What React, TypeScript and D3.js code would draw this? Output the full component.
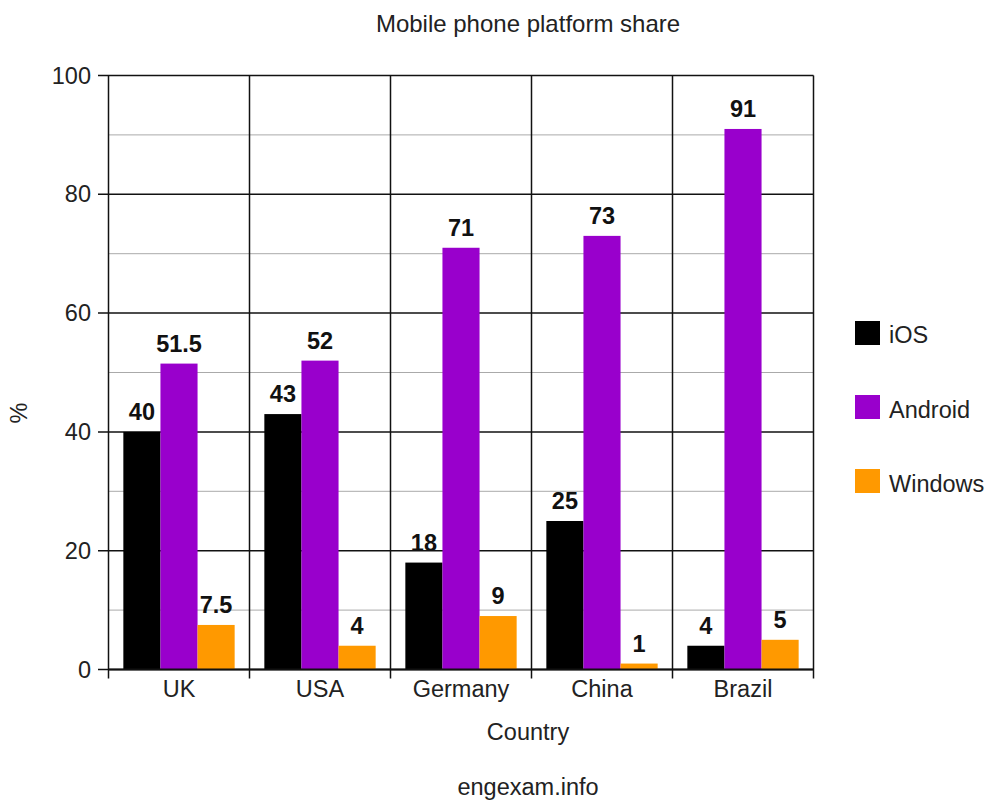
import React from "react";
import * as d3 from "d3";

const countries = ["UK", "USA", "Germany", "China", "Brazil"];
const seriesNames = ["iOS", "Android", "Windows"];
const iosValues = [40, 43, 18, 25, 4];
const androidValues = [51.5, 52, 71, 73, 91];
const windowsValues = [7.5, 4, 9, 1, 5];
const seriesColors = ["#000000", "#9900cc", "#ff9900"];
const yTicks = [0, 20, 40, 60, 80, 100];
const minorTicks = [10, 30, 50, 70, 90];

export default function App() {
  const W = 991, H = 801;
  const left = 108.5, right = 813.5, top = 75.5, bottom = 669.5;
  const font = "'Liberation Sans', Arial, sans-serif";
  const x = d3.scaleBand<string>().domain(countries).range([left, right]).paddingInner(0).paddingOuter(0);
  const xs = d3.scaleBand<string>().domain(seriesNames).range([0, x.bandwidth()]).paddingInner(0).paddingOuter(0.4);
  const y = d3.scaleLinear().domain([0, 100]).range([bottom, top]);
  const values = [iosValues, androidValues, windowsValues];
  const fmt = (v: number) => String(v);
  const fs = 23.5;

  return (
    <svg width={W} height={H} style={{ position: "absolute", left: 0, top: 0, background: "#fff" }} fontFamily={font}>
      <rect x={0} y={0} width={W} height={H} fill="#fff" />
      <text x={528} y={32} textAnchor="middle" fontSize={24} fill="#222">Mobile phone platform share</text>
      {minorTicks.map((t) => (
        <line key={"m" + t} x1={left} x2={right} y1={y(t)} y2={y(t)} stroke="#aaa" strokeWidth={1} />
      ))}
      {yTicks.map((t) => (
        <g key={"t" + t}>
          <line x1={98} x2={right} y1={y(t)} y2={y(t)} stroke="#111" strokeWidth={1.5} />
          <text x={91} y={y(t) + 8} textAnchor="end" fontSize={fs} fill="#222">{t}</text>
        </g>
      ))}
      {countries.map((c) => (
        <line key={"v" + c} x1={x(c)!} x2={x(c)!} y1={top} y2={bottom + 9} stroke="#111" strokeWidth={1.5} />
      ))}
      <line x1={right} x2={right} y1={top} y2={bottom + 9} stroke="#111" strokeWidth={1.5} />
      {countries.map((c, i) => (
        <g key={"g" + c}>
          {seriesNames.map((s, j) => {
            const v = values[j][i];
            const bx = x(c)! + xs(s)!;
            return (
              <g key={s}>
                <rect x={bx} y={y(v)} width={xs.bandwidth()} height={bottom - y(v)} fill={seriesColors[j]} />
                <text x={bx + xs.bandwidth() / 2} y={y(v) - 12} textAnchor="middle" fontSize={fs} fontWeight="bold" fill="#111">{fmt(v)}</text>
              </g>
            );
          })}
          <text x={x(c)! + x.bandwidth() / 2} y={697} textAnchor="middle" fontSize={fs} fill="#222">{c}</text>
        </g>
      ))}
      <line x1={left} x2={right} y1={bottom} y2={bottom} stroke="#111" strokeWidth={2} />
      <text x={528} y={740} textAnchor="middle" fontSize={fs} fill="#222">Country</text>
      <text transform={`translate(27,413) rotate(-90)`} textAnchor="middle" fontSize={fs} fill="#222">%</text>
      {seriesNames.map((s, j) => (
        <g key={"l" + s}>
          <rect x={855} y={321 + j * 74} width={25} height={24} fill={seriesColors[j]} />
          <text x={889} y={343 + j * 74.5} fontSize={fs} fill="#222">{s}</text>
        </g>
      ))}
      <text x={528} y={795} textAnchor="middle" fontSize={fs} fill="#222">engexam.info</text>
    </svg>
  );
}
